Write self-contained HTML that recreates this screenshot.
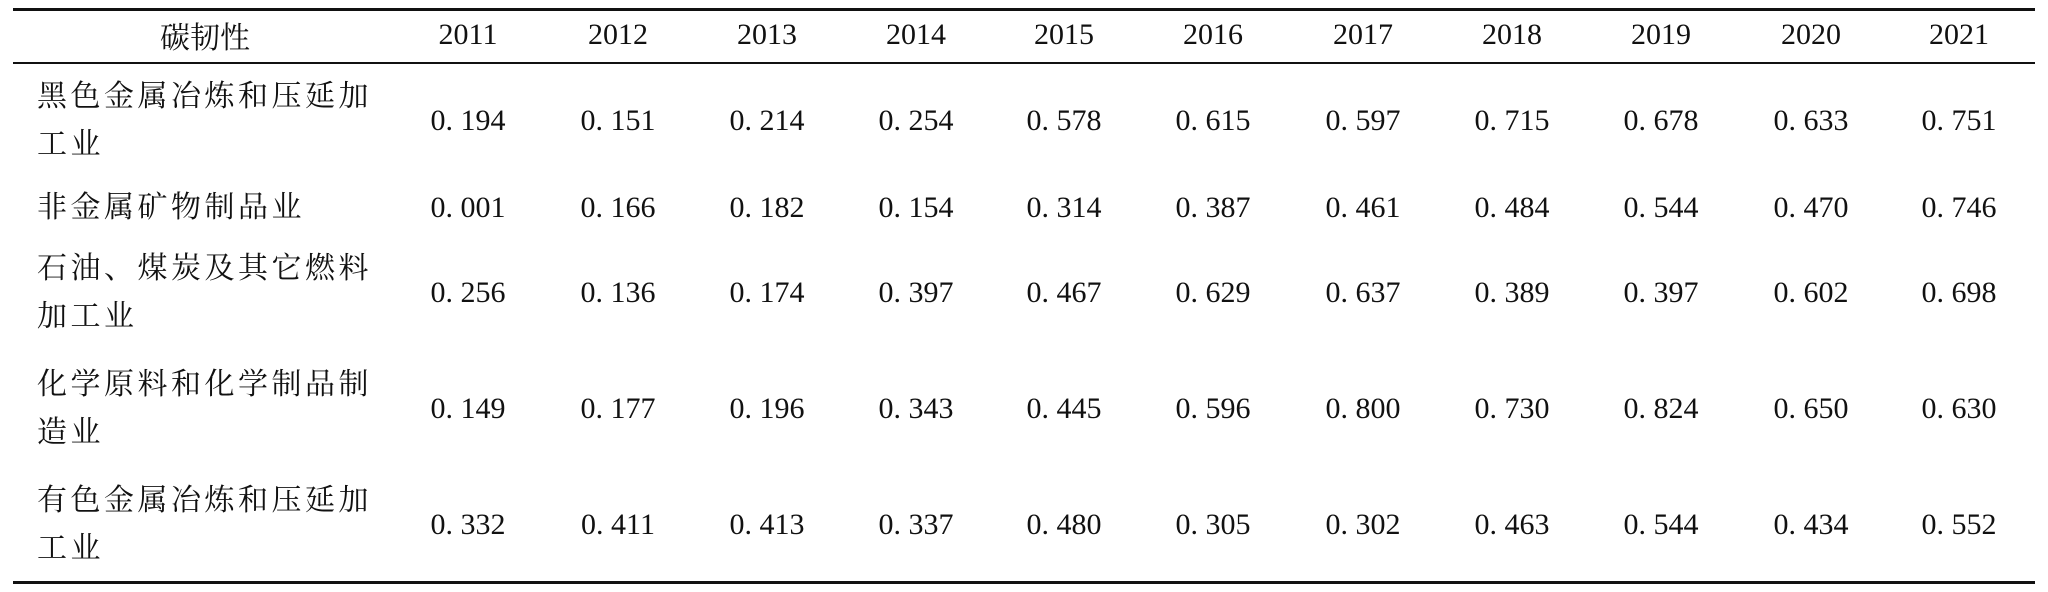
<!DOCTYPE html>
<html><head><meta charset="utf-8"><style>
body{margin:0;width:2048px;height:592px;background:#fff;overflow:hidden;position:relative;font-family:"Liberation Serif","Noto Serif CJK SC",serif;color:#111}
.rule{position:absolute;left:13px;width:2022px;background:#111}
.t{position:absolute;font-size:30px;white-space:nowrap;transform:translate(-50%,-50%)}
.lab{position:absolute;left:37px;font-size:30px;letter-spacing:3.5px;line-height:48px;transform:translateY(-50%);font-family:"Liberation Serif","Noto Serif CJK SC",serif}
</style></head><body>
<div class="rule" style="top:8px;height:3px"></div>
<div class="rule" style="top:62px;height:2px"></div>
<div class="rule" style="top:581px;height:3px"></div>
<div class="t" style="left:205px;top:35px;font-family:'Liberation Serif','Noto Serif CJK SC',serif">碳韧性</div>
<div id="tbl"></div>
<script>
const years=["2011","2012","2013","2014","2015","2016","2017","2018","2019","2020","2021"];
const industries=["黑色金属冶炼和压延加<br>工业","非金属矿物制品业","石油、煤炭及其它燃料<br>加工业","化学原料和化学制品制<br>造业","有色金属冶炼和压延加<br>工业"];
const row1=["0. 194","0. 151","0. 214","0. 254","0. 578","0. 615","0. 597","0. 715","0. 678","0. 633","0. 751"];
const row2=["0. 001","0. 166","0. 182","0. 154","0. 314","0. 387","0. 461","0. 484","0. 544","0. 470","0. 746"];
const row3=["0. 256","0. 136","0. 174","0. 397","0. 467","0. 629","0. 637","0. 389","0. 397","0. 602","0. 698"];
const row4=["0. 149","0. 177","0. 196","0. 343","0. 445","0. 596","0. 800","0. 730","0. 824","0. 650","0. 630"];
const row5=["0. 332","0. 411","0. 413","0. 337","0. 480","0. 305","0. 302","0. 463","0. 544","0. 434","0. 552"];
const rows=[row1,row2,row3,row4,row5];
const colX=[468,618,767,916,1064,1213,1363,1512,1661,1811,1959];
const rowY=[121,208,293,409,525];
const tbl=document.getElementById('tbl');
years.forEach((y,i)=>{
  const d=document.createElement('div');d.className='t';
  
  
  d.style.left=colX[i]+'px';d.style.top='35px';d.textContent=y;tbl.appendChild(d);
});
rows.forEach((r,j)=>{
  const l=document.createElement('div');l.className='lab';
  
  
  l.style.top=rowY[j]+'px';l.innerHTML=industries[j];tbl.appendChild(l);
  r.forEach((v,i)=>{
    const d=document.createElement('div');d.className='t';
    
    
    d.style.left=colX[i]+'px';d.style.top=rowY[j]+'px';d.textContent=v;tbl.appendChild(d);
  });
});
</script>
</body></html>
